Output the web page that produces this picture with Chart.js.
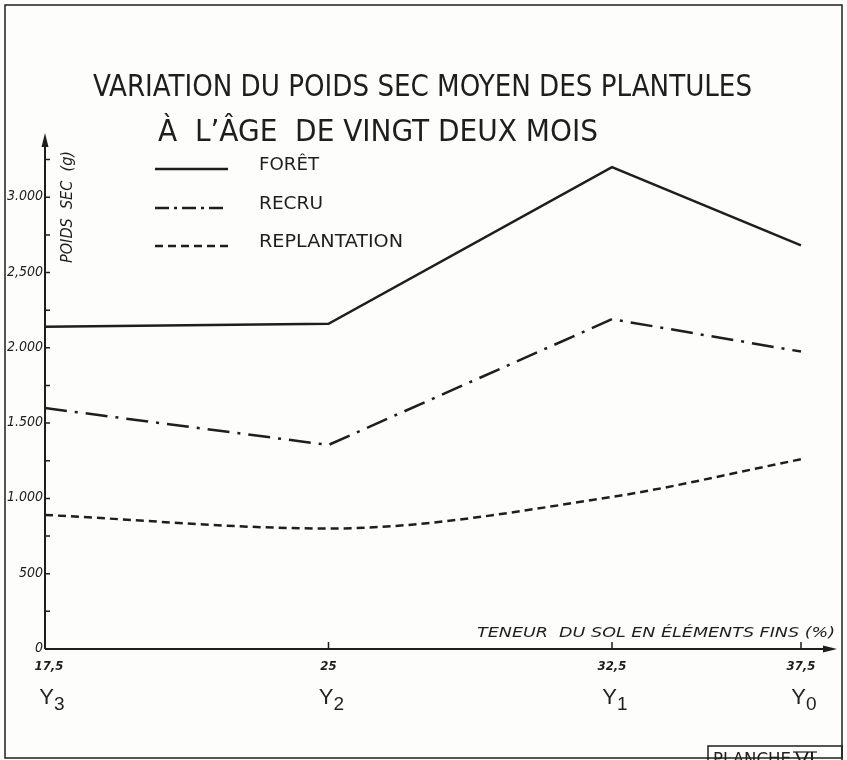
<!DOCTYPE html>
<html>
<head>
<meta charset="utf-8">
<title>Poids sec moyen des plantules</title>
<script src="https://cdn.jsdelivr.net/npm/chart.js@4/dist/chart.umd.min.js"></script>
<style>
  html, body { margin: 0; padding: 0; background: #fdfdfb; }
  canvas { display: block; }
</style>
</head>
<body>
<canvas id="planche" width="847" height="760"></canvas>
<script>
// teneur du sol en éléments fins (%) et stations
var teneur = [17.5, 25, 32.5, 37.5];
var teneurLabels = ['17,5', '25', '32,5', '37,5'];
var stations = ['3', '2', '1', '0'];

// poids sec moyen (g)
var foret = [2140, 2160, 3200, 2680];
var recru = [1600, 1355, 2190, 1975];
var replantation = [890, 800, 1010, 1260];

var yMajor = [0, 500, 1000, 1500, 2000, 2500, 3000];
var yMajorLabels = ['0', '500', '1.000', '1.500', '2.000', '2,500', '3.000'];

var INK = '#1e1e1e';
var FONT = '"DejaVu Sans Condensed", "DejaVu Sans", sans-serif';
var LETTRAGE = '"Liberation Sans Narrow", "DejaVu Sans Condensed", sans-serif';

function pts(values) {
  var out = [];
  for (var i in values) {
    out.push({x: teneur[i], y: values[i]});
  }
  return out;
}

// texte étiré à une largeur donnée
function fitText(ctx, text, x, y, w, align) {
  var m = ctx.measureText(text).width;
  ctx.save();
  ctx.translate(x, y);
  ctx.scale(w / m, 1);
  ctx.textAlign = align;
  ctx.fillText(text, 0, 0);
  ctx.restore();
}

var dessin = {
  id: 'dessin',
  beforeDatasetsDraw: function(chart) {
    var ctx = chart.ctx;
    var xs = chart.scales.x, ys = chart.scales.y;
    var x0 = xs.getPixelForValue(17.5);
    var y0 = ys.getPixelForValue(0);
    var yTop = ys.getPixelForValue(3400);
    var xEnd = xs.getPixelForValue(38.4);

    ctx.save();
    ctx.strokeStyle = INK;
    ctx.fillStyle = INK;

    // cadre
    ctx.lineWidth = 1.5;
    ctx.strokeRect(5, 5, 837, 753);

    // axes
    ctx.lineWidth = 2;
    ctx.beginPath();
    ctx.moveTo(x0, y0);
    ctx.lineTo(x0, yTop + 6);
    ctx.moveTo(x0, y0);
    ctx.lineTo(xEnd - 6, y0);
    ctx.stroke();
    ctx.beginPath();
    ctx.moveTo(x0, yTop - 4);
    ctx.lineTo(x0 - 3.5, yTop + 10);
    ctx.lineTo(x0 + 3.5, yTop + 10);
    ctx.closePath();
    ctx.fill();
    ctx.beginPath();
    ctx.moveTo(xEnd + 2, y0);
    ctx.lineTo(xEnd - 12, y0 - 3.5);
    ctx.lineTo(xEnd - 12, y0 + 3.5);
    ctx.closePath();
    ctx.fill();

    // graduations
    ctx.lineWidth = 1.5;
    ctx.beginPath();
    for (var v = 250; v <= 3250; v += 250) {
      var py = ys.getPixelForValue(v);
      ctx.moveTo(x0, py);
      ctx.lineTo(x0 + 5, py);
    }
    for (var i = 1; i < teneur.length; i++) {
      var px = xs.getPixelForValue(teneur[i]);
      ctx.moveTo(px, y0);
      ctx.lineTo(px, y0 - 7);
    }
    ctx.stroke();

    // valeurs de l'axe vertical
    ctx.font = 'italic 14px ' + FONT;
    ctx.textAlign = 'right';
    ctx.textBaseline = 'alphabetic';
    for (var j in yMajor) {
      ctx.fillText(yMajorLabels[j], x0 - 2, ys.getPixelForValue(yMajor[j]) + 3);
    }

    // valeurs de l'axe horizontal et stations
    for (var k in teneur) {
      var cx = xs.getPixelForValue(teneur[k]);
      if (k == 0) cx += 4;
      ctx.font = 'italic bold 13px ' + FONT;
      ctx.textAlign = 'center';
      ctx.fillText(teneurLabels[k], cx, y0 + 21);
      ctx.font = '22px "Liberation Sans", sans-serif';
      ctx.textAlign = 'right';
      ctx.fillText('Y', cx + 5, y0 + 55);
      ctx.font = '19px "Liberation Sans", sans-serif';
      ctx.textAlign = 'left';
      ctx.fillText(stations[k], cx + 5, y0 + 61);
    }

    // titres des axes
    ctx.font = 'italic 14px ' + FONT;
    fitText(ctx, 'TENEUR  DU SOL EN ÉLÉMENTS FINS (%)', xEnd, y0 - 12, 358, 'right');
    ctx.save();
    ctx.translate(x0 + 27, yTop + 70);
    ctx.rotate(-Math.PI / 2);
    ctx.font = 'italic 15px ' + FONT;
    fitText(ctx, 'POIDS  SEC  (g)', 0, 0, 112, 'center');
    ctx.restore();

    ctx.restore();
  },
  afterDraw: function(chart) {
    var ctx = chart.ctx;
    ctx.save();
    ctx.fillStyle = INK;
    ctx.strokeStyle = INK;
    ctx.textBaseline = 'alphabetic';

    // titre
    ctx.font = '30px ' + LETTRAGE;
    fitText(ctx, 'VARIATION DU POIDS SEC MOYEN DES PLANTULES', 93, 96, 659, 'left');
    fitText(ctx, 'À  L\u2019ÂGE  DE VINGT DEUX MOIS', 158, 141, 440, 'left');

    // légende
    var rows = [163, 202, 240];
    chart.data.datasets.forEach(function(ds, n) {
      var ly = rows[n] + 6;
      ctx.save();
      ctx.lineWidth = ds.borderWidth;
      ctx.setLineDash(n == 1 ? [14, 5, 3, 5] : (ds.borderDash || []));
      ctx.beginPath();
      ctx.moveTo(155, ly);
      ctx.lineTo(228, ly);
      ctx.stroke();
      ctx.restore();
    });
    ctx.font = '18px ' + LETTRAGE;
    fitText(ctx, 'FORÊT', 259, rows[0] + 7, 60, 'left');
    fitText(ctx, 'RECRU', 259, rows[1] + 7, 64, 'left');
    fitText(ctx, 'REPLANTATION', 259, rows[2] + 7, 144, 'left');

    // planche
    ctx.lineWidth = 1.5;
    ctx.strokeRect(708, 746, 134, 20);
    ctx.font = '17px ' + LETTRAGE;
    fitText(ctx, 'PLANCHE', 713, 765, 78, 'left');
    fitText(ctx, 'VI', 795, 765, 20, 'left');
    ctx.lineWidth = 1.2;
    ctx.beginPath();
    ctx.moveTo(793, 752);
    ctx.lineTo(817, 752);
    ctx.stroke();

    ctx.restore();
  }
};

var lineStyle = {
  borderColor: INK,
  borderWidth: 2.5,
  pointRadius: 0,
  fill: false
};

var chart = new Chart(document.getElementById('planche'), {
  type: 'line',
  data: {
    datasets: [
      Object.assign({label: 'FORÊT', data: pts(foret), tension: 0}, lineStyle),
      Object.assign({label: 'RECRU', data: pts(recru), tension: 0, borderDash: [22, 8, 3, 8]}, lineStyle),
      Object.assign({label: 'REPLANTATION', data: pts(replantation), cubicInterpolationMode: 'monotone', borderDash: [8, 5]}, lineStyle)
    ]
  },
  options: {
    responsive: false,
    animation: false,
    layout: {padding: {left: 45, right: 12, top: 137, bottom: 111}},
    plugins: {legend: {display: false}, tooltip: {enabled: false}},
    scales: {
      x: {type: 'linear', display: false, min: 17.5, max: 38.4},
      y: {display: false, min: 0, max: 3400}
    }
  },
  plugins: [dessin]
});
</script>
</body>
</html>
